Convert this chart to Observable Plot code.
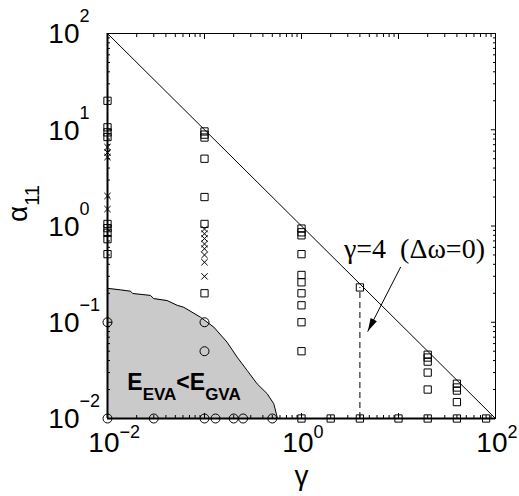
<!DOCTYPE html>
<html><head><meta charset="utf-8">
<script src="https://cdn.jsdelivr.net/npm/d3@7"></script>
<script src="https://cdn.jsdelivr.net/npm/@observablehq/plot@0.6"></script>
<style>html,body{margin:0;padding:0;background:#fff}#chart{position:absolute;left:0;top:0}</style>
</head><body><div id="chart"></div>
<script>
// ---- data ----
const xDomain = [0.01, 100];
const yDomain = [0.01, 100];

const squareX = [0.01,0.01,0.01,0.01,0.01,0.01,0.01,0.01,0.01,
  0.1,0.1,0.1,0.1,0.1,0.1,0.1,
  1,1,1,1,1,1,1,1,1,1,1,
  2,4,4,10,
  20,20,20,20,20,20,
  40,40,40,40,40,
  80];
const squareY = [20,10.6,9.4,8.4,1.05,0.95,0.85,0.73,0.51,
  9.6,8.9,8.3,5.0,2.0,1.05,0.2,
  0.94,0.86,0.80,0.51,0.31,0.26,0.2,0.15,0.1,0.05,0.01,
  0.01,0.23,0.01,0.01,
  0.046,0.043,0.039,0.030,0.020,0.01,
  0.023,0.021,0.0195,0.0148,0.01,
  0.01];

const crossX = [0.01,0.01,0.01,0.01,0.01, 0.1,0.1,0.1,0.1,0.1,0.1,0.1,0.1];
const crossY = [6.6,5.8,5.2,2.05,1.5, 0.93,0.83,0.74,0.65,0.58,0.5,0.42,0.3];

const circleX = [0.01,0.01,0.03,0.1,0.1,0.1,0.13,0.2,0.25,0.5];
const circleY = [0.1,0.01,0.01,0.1,0.05,0.01,0.01,0.01,0.01,0.01];

const boundaryX = [0.0100,0.0136,0.0173,0.0182,0.0277,0.0300,0.0412,0.0523,0.0612,0.0908,0.1247,0.171,0.217,0.275,0.349,0.443,0.518,0.562,0.575];
const boundaryY = [0.225,0.217,0.210,0.199,0.190,0.176,0.168,0.150,0.143,0.113,0.089,0.062,0.0434,0.0316,0.0229,0.0181,0.0142,0.0103,0.0100];

const diagX = [0.01, 100];
const diagY = [100, 0.01];

const dashGamma = [4];
const dashAlphaTop = [0.23];

const xTicks = [0.01, 1, 100];
const xTickExp = ["\u22122", "0", "2"];
const yTicks = [0.01, 0.1, 1, 10, 100];
const yTickExp = ["\u22122", "\u22121", "0", "1", "2"];
const xMajor = [0.01, 0.1, 1, 10, 100];
const yMajor = [0.01, 0.1, 1, 10, 100];
const minorTicks = d3.range(-2, 2).flatMap(e => d3.range(2, 10).map(k => k * Math.pow(10, e)));

const xTitle = "\u03b3";
const yTitle = ["\u03b1", "11"];
const regionLabel = ["E", "EVA", "<", "E", "GVA"];
const annotText = "\u03b3=4\u00a0\u00a0(\u0394\u03c9=0)";
const annotPos = [{x: 14.6, y: 0.57}];
const regionPos = [{x: 0.016, y: 0.0199}];
const arrowFrom = {x: 10.5, y: 0.373};
const arrowTo = {x: 4.83, y: 0.0807};

// ---- layout ----
const W = 519, H = 496;
const mL = 107, mR = 24, mT = 33, mB = 78;
const pxPerDecX = (W - mL - mR) / Math.log10(xDomain[1] / xDomain[0]);
const pxPerDecY = (H - mT - mB) / Math.log10(yDomain[1] / yDomain[0]);
const adx = Math.log10(arrowTo.x / arrowFrom.x) * pxPerDecX;
const ady = -Math.log10(arrowTo.y / arrowFrom.y) * pxPerDecY;
const arrowAngle = Math.atan2(adx, -ady) * 180 / Math.PI;
const headSymbol = {draw(ctx) { ctx.moveTo(0, 0); ctx.lineTo(-3.5, 13); ctx.lineTo(3.5, 13); ctx.closePath(); }};

const zip = (xs, ys) => xs.map((x, i) => ({x, y: ys[i]}));
const squares = zip(squareX, squareY);
const crosses = zip(crossX, crossY);
const circles = zip(circleX, circleY);
const boundary = zip(boundaryX, boundaryY);
const diag = zip(diagX, diagY);

const font = "Liberation Sans, Arial, Helvetica, sans-serif";
const noLabel = () => "";

const chart = Plot.plot({
  width: W, height: H,
  marginLeft: mL, marginRight: mR, marginTop: mT, marginBottom: mB,
  style: {fontFamily: font, background: "#fff", color: "#000", overflow: "visible"},
  x: {type: "log", domain: xDomain},
  y: {type: "log", domain: yDomain},
  marks: [
    Plot.areaY(boundary, {x: "x", y1: yDomain[0], y2: "y", fill: "#cacaca"}),
    Plot.line(boundary, {x: "x", y: "y", stroke: "#000", strokeWidth: 1}),
    Plot.line(diag, {x: "x", y: "y", stroke: "#000", strokeWidth: 1}),
    Plot.ruleX(dashGamma, {x: d => d, y1: yDomain[0], y2: (d, i) => dashAlphaTop[i], stroke: "#000", strokeWidth: 1, strokeDasharray: "6,4"}),
    Plot.frame({stroke: "#000", strokeWidth: 1}),
    Plot.ruleX([xDomain[0]], {stroke: "#000", strokeWidth: 2}),
    Plot.ruleY([yDomain[0]], {stroke: "#000", strokeWidth: 2}),
    Plot.dot(circles, {x: "x", y: "y", symbol: "circle", r: 4.5, stroke: "#000", fill: "none", strokeWidth: 1}),
    Plot.dot(squares, {x: "x", y: "y", symbol: "square", r: 4.1, stroke: "#000", fill: "none", strokeWidth: 1}),
    Plot.dot(crosses, {x: "x", y: "y", symbol: "times", r: 3.0, stroke: "#000", strokeWidth: 1}),
    // ticks (inward, all four sides)
    Plot.axisX(xMajor, {anchor: "bottom", tickSize: -5, tickFormat: noLabel, label: null}),
    Plot.axisX(xMajor, {anchor: "top", tickSize: -5, tickFormat: noLabel, label: null}),
    Plot.axisX(minorTicks, {anchor: "bottom", tickSize: -3, tickFormat: noLabel, label: null}),
    Plot.axisX(minorTicks, {anchor: "top", tickSize: -3, tickFormat: noLabel, label: null}),
    Plot.axisY(yMajor, {anchor: "left", tickSize: -5, tickFormat: noLabel, label: null}),
    Plot.axisY(yMajor, {anchor: "right", tickSize: -5, tickFormat: noLabel, label: null}),
    Plot.axisY(minorTicks, {anchor: "left", tickSize: -3, tickFormat: noLabel, label: null}),
    Plot.axisY(minorTicks, {anchor: "right", tickSize: -3, tickFormat: noLabel, label: null}),
    // tick labels
    Plot.text(xTicks, {x: d => d, frameAnchor: "bottom", text: () => "10", textAnchor: "end", dx: 12, dy: 33, fontSize: 28, fill: "#000"}),
    Plot.text(xTicks, {x: d => d, frameAnchor: "bottom", text: (d, i) => xTickExp[i], textAnchor: "start", dx: 12, dy: 19.5, fontSize: 18, fill: "#000"}),
    Plot.text(yTicks, {y: d => d, frameAnchor: "left", text: () => "10", textAnchor: "end", dx: -28, dy: 1, fontSize: 28, fill: "#000"}),
    Plot.text(yTicks, {y: d => d, frameAnchor: "left", text: (d, i) => yTickExp[i], textAnchor: "start", dx: -28, dy: -17, fontSize: 18, fill: "#000"}),
    // axis titles
    Plot.text([xTitle], {x: 1, frameAnchor: "bottom", text: d => d, dy: 66, fontSize: 28, fill: "#000"}),
    Plot.text([yTitle.join("")], {frameAnchor: "left", text: d => d, rotate: -90, textAnchor: "start", lineAnchor: "bottom", dx: -81, dy: -4, fontSize: 28, fill: "#000"}),
    // annotations
    Plot.text(annotPos, {x: "x", y: "y", text: () => annotText, fontFamily: "Liberation Serif, Times New Roman, serif", fontSize: 28, fill: "#000"}),
    Plot.arrow([arrowFrom], {x1: "x", y1: "y", x2: () => arrowTo.x, y2: () => arrowTo.y, stroke: "#000", strokeWidth: 1, headLength: 0}),
    Plot.dot([arrowTo], {x: "x", y: "y", symbol: headSymbol, rotate: arrowAngle, fill: "#000", stroke: "none"}),
    Plot.text(regionPos, {x: "x", y: "y", text: () => regionLabel.join(""), textAnchor: "start", lineAnchor: "bottom", fontWeight: "bold", fontSize: 23, fill: "#000"})
  ]
});

// turn plain label text into base + subscript tspans
const SVGNS = "http://www.w3.org/2000/svg";
function richText(svg, parts, styles) {
  const whole = parts.join("");
  svg.querySelectorAll("text").forEach(t => {
    if (t.textContent !== whole) return;
    t.textContent = "";
    let shift = 0;
    parts.forEach((s, i) => {
      const [size, off] = styles[i];
      const ts = document.createElementNS(SVGNS, "tspan");
      ts.textContent = s;
      ts.setAttribute("font-size", size);
      ts.setAttribute("dy", off - shift);
      shift = off;
      t.appendChild(ts);
    });
  });
}
richText(chart, regionLabel, [[23, 0], [17, 10], [23, 0], [23, 0], [17, 10]]);
richText(chart, yTitle, [[28, 0], [20, 12]]);

document.getElementById("chart").append(chart);
</script>
</body></html>
